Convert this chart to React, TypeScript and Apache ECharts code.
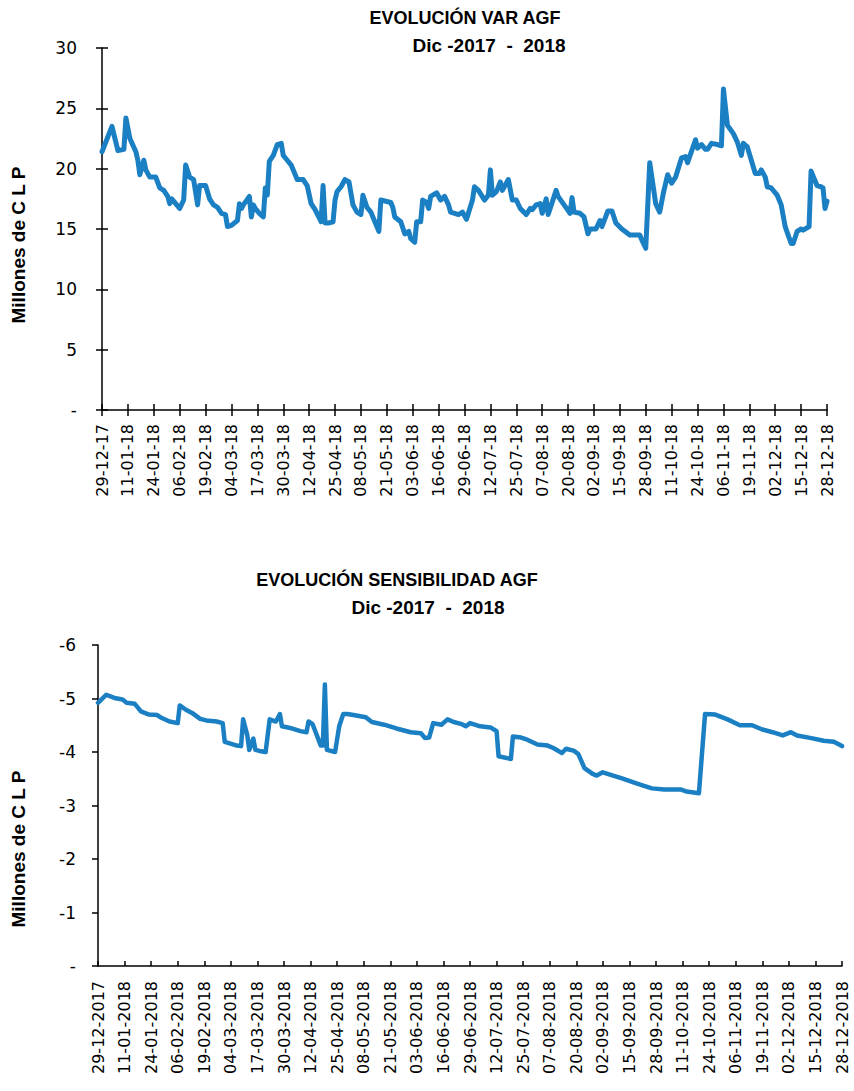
import React, { useEffect, useRef } from "react";
import * as echarts from "echarts";

// ---------- DATA ----------
const varDates: string[] = [
  "2017-12-29","2018-01-03","2018-01-06","2018-01-09","2018-01-10","2018-01-12","2018-01-15","2018-01-16","2018-01-17","2018-01-19",
  "2018-01-20","2018-01-22","2018-01-25","2018-01-27","2018-01-29","2018-01-31","2018-02-01","2018-02-02","2018-02-04","2018-02-06",
  "2018-02-08","2018-02-09","2018-02-11","2018-02-13","2018-02-15","2018-02-16","2018-02-19","2018-02-21","2018-02-23","2018-02-25",
  "2018-02-27","2018-03-01","2018-03-02","2018-03-04","2018-03-07","2018-03-08","2018-03-09","2018-03-10","2018-03-13","2018-03-14",
  "2018-03-15","2018-03-16","2018-03-18","2018-03-20","2018-03-21","2018-03-22","2018-03-23","2018-03-25","2018-03-27","2018-03-29",
  "2018-03-30","2018-04-01","2018-04-03","2018-04-04","2018-04-06","2018-04-09","2018-04-11","2018-04-13","2018-04-15","2018-04-18",
  "2018-04-19","2018-04-20","2018-04-22","2018-04-24","2018-04-25","2018-04-26","2018-04-28","2018-04-30","2018-05-02","2018-05-04",
  "2018-05-06","2018-05-08","2018-05-09","2018-05-11","2018-05-13","2018-05-15","2018-05-17","2018-05-18","2018-05-23","2018-05-24",
  "2018-05-25","2018-05-28","2018-05-30","2018-06-01","2018-06-02","2018-06-04","2018-06-05","2018-06-07","2018-06-08","2018-06-10",
  "2018-06-11","2018-06-12","2018-06-15","2018-06-17","2018-06-19","2018-06-21","2018-06-22","2018-06-26","2018-06-28","2018-06-30",
  "2018-07-03","2018-07-04","2018-07-06","2018-07-09","2018-07-11","2018-07-12","2018-07-13","2018-07-15","2018-07-17","2018-07-18",
  "2018-07-21","2018-07-23","2018-07-25","2018-07-27","2018-07-30","2018-08-01","2018-08-02","2018-08-04","2018-08-06","2018-08-07",
  "2018-08-09","2018-08-10","2018-08-14","2018-08-15","2018-08-18","2018-08-21","2018-08-22","2018-08-23","2018-08-26","2018-08-28",
  "2018-08-30","2018-08-31","2018-09-03","2018-09-05","2018-09-06","2018-09-09","2018-09-11","2018-09-13","2018-09-16","2018-09-20",
  "2018-09-25","2018-09-26","2018-09-28","2018-09-30","2018-10-03","2018-10-05","2018-10-07","2018-10-09","2018-10-11","2018-10-13",
  "2018-10-16","2018-10-18","2018-10-19","2018-10-23","2018-10-24","2018-10-26","2018-10-28","2018-10-29","2018-10-31","2018-11-03",
  "2018-11-05","2018-11-06","2018-11-08","2018-11-11","2018-11-13","2018-11-15","2018-11-16","2018-11-18","2018-11-20","2018-11-22",
  "2018-11-24","2018-11-25","2018-11-27","2018-11-28","2018-11-30","2018-12-03","2018-12-05","2018-12-07","2018-12-10","2018-12-11",
  "2018-12-13","2018-12-15","2018-12-16","2018-12-19","2018-12-20","2018-12-23","2018-12-25","2018-12-26","2018-12-27","2018-12-28",
];
const varValues: number[] = [
  21.4,23.5,21.5,21.6,24.2,22.5,21.4,20.7,19.5,20.7,
  19.9,19.3,19.3,18.4,18.2,17.7,17.1,17.5,17.1,16.7,
  17.4,20.3,19.3,19.1,17.0,18.6,18.6,17.5,17.0,16.8,
  16.3,16.2,15.2,15.3,15.7,17.1,16.7,17.0,17.7,16.0,
  17.0,16.7,16.3,16.0,18.4,17.8,20.6,21.1,22.0,22.1,
  21.1,20.7,20.3,19.9,19.1,19.1,18.6,17.1,16.6,15.6,
  18.6,15.5,15.5,15.6,17.4,18.1,18.5,19.1,18.9,17.0,
  16.4,16.2,17.8,16.8,16.4,15.6,14.8,17.4,17.2,16.8,
  16.0,15.6,14.6,14.8,14.2,13.9,15.6,15.6,17.4,17.2,
  16.7,17.7,18.0,17.4,17.7,17.0,16.4,16.2,16.4,15.8,
  17.4,18.5,18.2,17.4,17.8,19.9,17.8,18.1,18.9,18.2,
  19.1,17.4,17.4,16.7,16.2,16.7,16.6,17.0,17.1,16.3,
  17.5,16.2,18.2,17.7,17.0,16.3,17.6,16.4,16.3,16.0,
  14.6,15.0,15.0,15.7,15.2,16.5,16.5,15.5,15.0,14.5,
  14.5,14.1,13.4,20.5,17.1,16.4,18.1,19.5,18.8,19.3,
  20.9,21.0,20.5,22.4,21.7,22.0,21.6,21.6,22.1,22.0,
  21.9,26.6,23.6,22.9,22.2,21.1,22.1,21.8,20.7,19.6,
  19.6,19.9,19.3,18.5,18.4,17.8,17.0,15.2,13.8,13.8,
  14.8,15.0,14.9,15.2,19.8,18.6,18.5,18.4,16.7,17.3,
];

const sensDates: string[] = [
  "2017-12-29","2018-01-02","2018-01-06","2018-01-10","2018-01-12","2018-01-16","2018-01-19","2018-01-23","2018-01-27","2018-01-29",
  "2018-02-02","2018-02-06","2018-02-07","2018-02-10","2018-02-13","2018-02-17","2018-02-20","2018-02-25","2018-02-28","2018-03-01",
  "2018-03-07","2018-03-09","2018-03-10","2018-03-12","2018-03-13","2018-03-15","2018-03-16","2018-03-18","2018-03-21","2018-03-23",
  "2018-03-26","2018-03-28","2018-03-29","2018-04-02","2018-04-07","2018-04-10","2018-04-11","2018-04-13","2018-04-17","2018-04-18",
  "2018-04-19","2018-04-20","2018-04-24","2018-04-26","2018-04-28","2018-04-30","2018-05-03","2018-05-09","2018-05-12","2018-05-18",
  "2018-05-24","2018-05-31","2018-06-05","2018-06-07","2018-06-09","2018-06-11","2018-06-15","2018-06-18","2018-06-21","2018-06-25",
  "2018-06-27","2018-06-29","2018-07-04","2018-07-09","2018-07-12","2018-07-13","2018-07-19","2018-07-20","2018-07-24","2018-07-27",
  "2018-08-01","2018-08-06","2018-08-09","2018-08-13","2018-08-15","2018-08-19","2018-08-21","2018-08-24","2018-08-28","2018-08-30",
  "2018-09-02","2018-09-07","2018-09-11","2018-09-17","2018-09-21","2018-09-26","2018-10-02","2018-10-10","2018-10-13","2018-10-19",
  "2018-10-22","2018-10-27","2018-11-02","2018-11-08","2018-11-14","2018-11-19","2018-11-24","2018-11-29","2018-12-03","2018-12-06",
  "2018-12-13","2018-12-19","2018-12-24","2018-12-28",
];
const sensValues: number[] = [
  -4.92,-5.07,-5.01,-4.98,-4.92,-4.90,-4.76,-4.70,-4.69,-4.64,
  -4.57,-4.54,-4.87,-4.79,-4.73,-4.62,-4.59,-4.57,-4.54,-4.19,
  -4.12,-4.11,-4.61,-4.32,-4.04,-4.25,-4.04,-4.02,-4.00,-4.61,
  -4.57,-4.71,-4.48,-4.45,-4.39,-4.37,-4.57,-4.52,-4.12,-4.12,
  -5.26,-4.04,-4.00,-4.48,-4.71,-4.71,-4.69,-4.65,-4.56,-4.51,
  -4.44,-4.37,-4.35,-4.26,-4.27,-4.54,-4.51,-4.61,-4.56,-4.52,
  -4.48,-4.54,-4.48,-4.46,-4.39,-3.92,-3.87,-4.29,-4.27,-4.23,
  -4.14,-4.12,-4.07,-3.98,-4.06,-4.02,-3.96,-3.70,-3.59,-3.56,
  -3.62,-3.56,-3.51,-3.43,-3.38,-3.32,-3.30,-3.30,-3.26,-3.23,
  -4.71,-4.70,-4.61,-4.50,-4.50,-4.42,-4.37,-4.31,-4.37,-4.31,
  -4.26,-4.21,-4.19,-4.11,
];

const varTickLabels: string[] = [
  "29-12-17","11-01-18","24-01-18","06-02-18","19-02-18","04-03-18","17-03-18","30-03-18","12-04-18","25-04-18",
  "08-05-18","21-05-18","03-06-18","16-06-18","29-06-18","12-07-18","25-07-18","07-08-18","20-08-18","02-09-18",
  "15-09-18","28-09-18","11-10-18","24-10-18","06-11-18","19-11-18","02-12-18","15-12-18","28-12-18",
];
const sensTickLabels: string[] = [
  "29-12-2017","11-01-2018","24-01-2018","06-02-2018","19-02-2018","04-03-2018","17-03-2018","30-03-2018","12-04-2018","25-04-2018",
  "08-05-2018","21-05-2018","03-06-2018","16-06-2018","29-06-2018","12-07-2018","25-07-2018","07-08-2018","20-08-2018","02-09-2018",
  "15-09-2018","28-09-2018","11-10-2018","24-10-2018","06-11-2018","19-11-2018","02-12-2018","15-12-2018","28-12-2018",
];
const varYLabels: string[] = ["-", "5", "10", "15", "20", "25", "30"];
const sensYLabels: string[] = ["-6", "-5", "-4", "-3", "-2", "-1", "-"];

const titleVar1 = "EVOLUCIÓN VAR AGF";
const titleSens1 = "EVOLUCIÓN SENSIBILIDAD AGF";
const titleLine2 = "Dic -2017  -  2018";
const yName = "Millones de C L P";

// ---------- HELPERS ----------
const BASE = Date.UTC(2017, 11, 29);
const DAY_STEP = 13;
const dayIndex = (iso: string) => {
  const [y, m, d] = iso.split("-").map(Number);
  return Math.round((Date.UTC(y, m - 1, d) - BASE) / 86400000);
};

const LINE = "#1B7FC3";
const FONT = "'Liberation Sans', Arial, sans-serif";
const TICKFONT = "'DejaVu Sans', 'Liberation Sans', sans-serif";
const AX = { color: "#000", width: 1.5 };

export default function App() {
  const ref = useRef<HTMLDivElement>(null);

  useEffect(() => {
    if (!ref.current) return;
    const chart = echarts.init(ref.current, undefined, { renderer: "svg" });

    const xLabel = (labels: string[]) => (v: number) => {
      const i = Math.round(v / DAY_STEP);
      return labels[i] ?? "";
    };

    const option: any = {
      animation: false,
      textStyle: { fontFamily: FONT },
      grid: [
        { left: 102, right: 27, top: 48, height: 362 },
        { left: 98, right: 12, top: 645, height: 321 },
      ],
      xAxis: [
        {
          gridIndex: 0, type: "value", min: 0, max: 364, interval: DAY_STEP,
          axisLine: { show: true, onZero: false, lineStyle: AX },
          axisTick: { show: true, length: 6, lineStyle: AX },
          axisLabel: { rotate: 90, margin: 14, fontSize: 16, color: "#000", fontFamily: TICKFONT, formatter: xLabel(varTickLabels) },
          splitLine: { show: false },
        },
        {
          gridIndex: 0, type: "value", min: 0, max: 364, interval: DAY_STEP, position: "bottom",
          axisLine: { show: false, onZero: false },
          axisTick: { show: true, inside: true, length: 6, lineStyle: AX },
          axisLabel: { show: false },
          splitLine: { show: false },
        },
        {
          gridIndex: 1, type: "value", min: 0, max: 364, interval: DAY_STEP,
          axisLine: { show: true, onZero: false, lineStyle: AX },
          axisTick: { show: true, inside: true, length: 5, lineStyle: AX },
          axisLabel: { rotate: 90, margin: 15, fontSize: 16, color: "#000", fontFamily: TICKFONT, formatter: xLabel(sensTickLabels) },
          splitLine: { show: false },
        },
      ],
      yAxis: [
        {
          gridIndex: 0, type: "value", min: 0, max: 30, interval: 5,
          axisLine: { show: true, onZero: false, lineStyle: AX },
          axisTick: { show: true, length: 6, lineStyle: AX },
          axisLabel: { margin: 25, fontSize: 17, color: "#000", fontFamily: TICKFONT, formatter: (v: number) => varYLabels[Math.round(v / 5)] ?? "" },
          splitLine: { show: false },
        },
        {
          gridIndex: 0, type: "value", min: 0, max: 30, interval: 5, position: "left",
          axisLine: { show: false, onZero: false },
          axisTick: { show: true, inside: true, length: 6, lineStyle: AX },
          axisLabel: { show: false },
          splitLine: { show: false },
        },
        {
          gridIndex: 1, type: "value", min: -6, max: 0, interval: 1, inverse: true,
          axisLine: { show: true, onZero: false, lineStyle: AX },
          axisTick: { show: true, length: 6, lineStyle: AX },
          axisLabel: { margin: 22, fontSize: 17, color: "#000", fontFamily: TICKFONT, formatter: (v: number) => sensYLabels[Math.round(v + 6)] ?? "" },
          splitLine: { show: false },
        },
      ],
      series: [
        {
          type: "line", xAxisIndex: 0, yAxisIndex: 0, showSymbol: false, symbol: "none",
          lineStyle: { color: LINE, width: 5, cap: "round", join: "round" },
          data: varDates.map((d, i) => [dayIndex(d), varValues[i]]),
        },
        {
          type: "line", xAxisIndex: 2, yAxisIndex: 2, showSymbol: false, symbol: "none",
          lineStyle: { color: LINE, width: 4.5, cap: "round", join: "round" },
          data: sensDates.map((d, i) => [dayIndex(d), sensValues[i]]),
        },
      ],
      graphic: [
        { type: "text", x: 465, y: 18, style: { text: titleVar1, font: `bold 18px ${FONT}`, fill: "#000", align: "center", verticalAlign: "middle" } },
        { type: "text", x: 489, y: 45, style: { text: titleLine2, font: `bold 19px ${FONT}`, fill: "#000", align: "center", verticalAlign: "middle" } },
        { type: "text", x: 397, y: 580, style: { text: titleSens1, font: `bold 18px ${FONT}`, fill: "#000", align: "center", verticalAlign: "middle" } },
        { type: "text", x: 428, y: 607, style: { text: titleLine2, font: `bold 19px ${FONT}`, fill: "#000", align: "center", verticalAlign: "middle" } },
        { type: "text", x: 18, y: 245, rotation: Math.PI / 2, style: { text: yName, font: `bold 19px ${FONT}`, fill: "#000", align: "center", verticalAlign: "middle" } },
        { type: "text", x: 18, y: 849, rotation: Math.PI / 2, style: { text: yName, font: `bold 19px ${FONT}`, fill: "#000", align: "center", verticalAlign: "middle" } },
      ],
    };

    chart.setOption(option);
    return () => chart.dispose();
  }, []);

  return (
    <div
      ref={ref}
      style={{ position: "absolute", left: 0, top: 0, width: 854, height: 1091, background: "#fff" }}
    />
  );
}
